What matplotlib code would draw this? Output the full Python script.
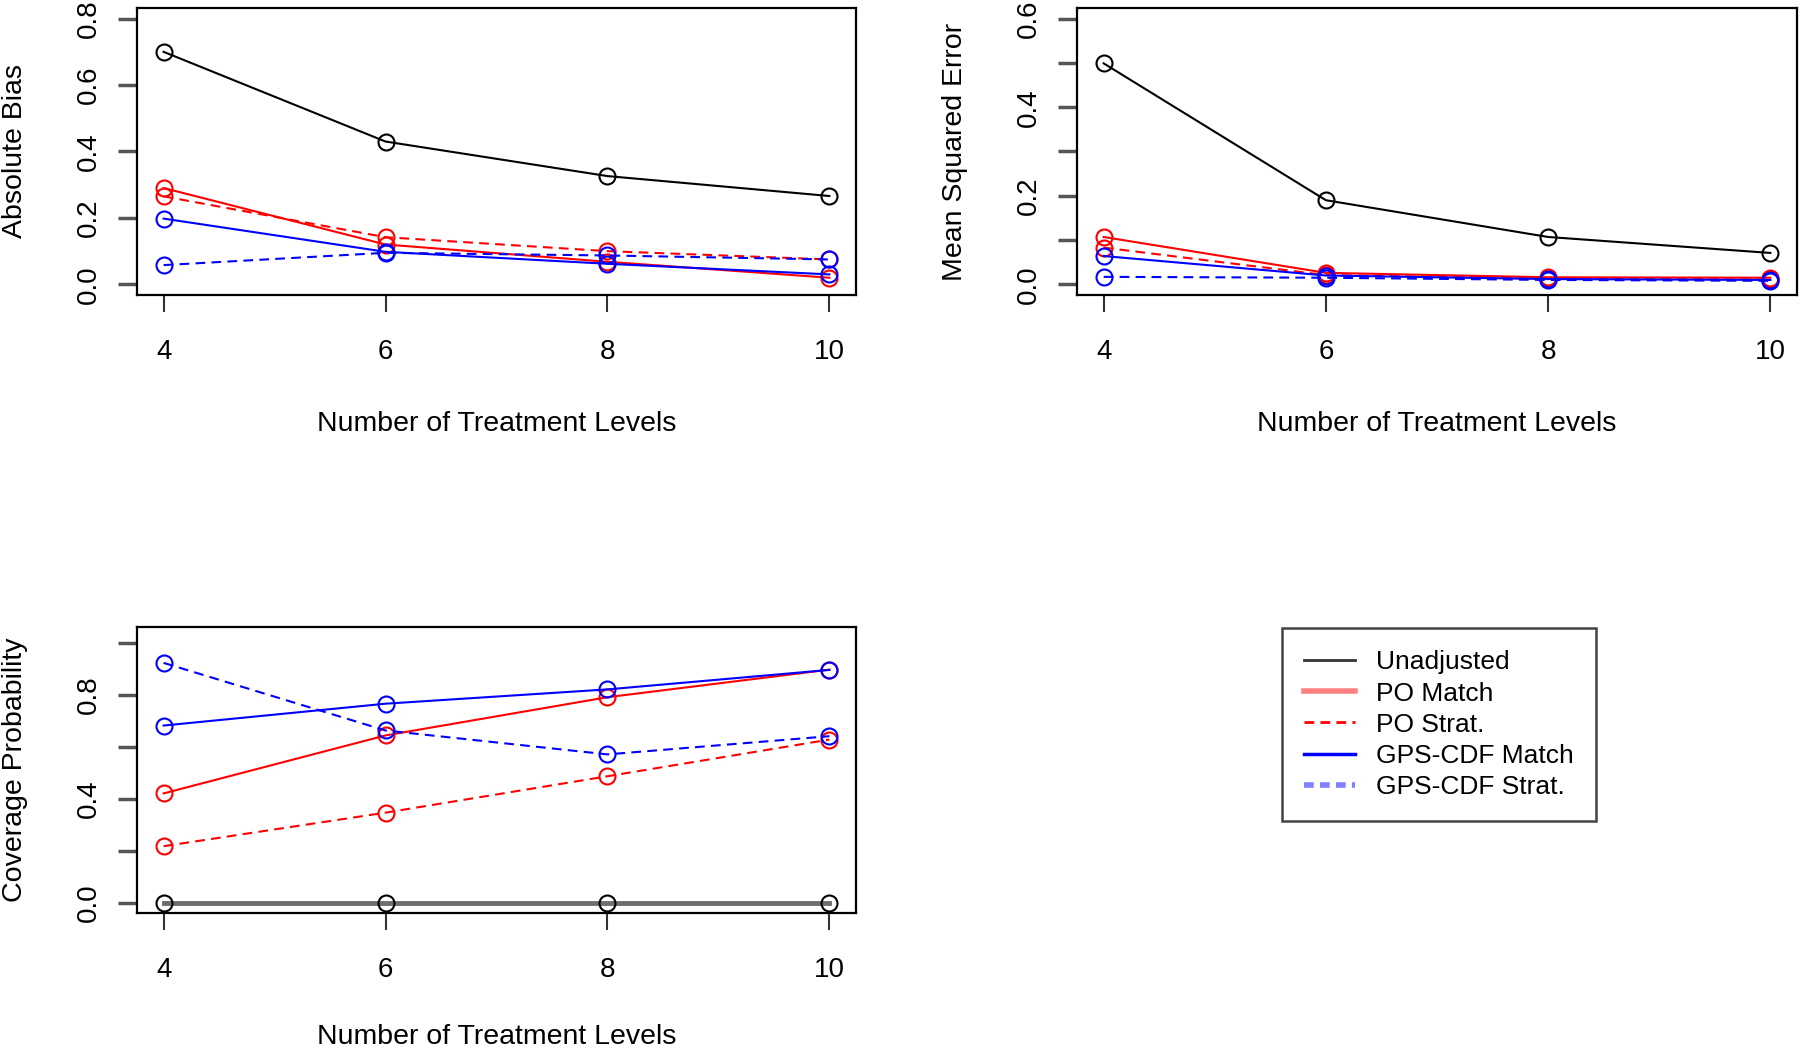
import matplotlib
matplotlib.use('Agg')
import matplotlib.pyplot as plt
from matplotlib.lines import Line2D

plt.rcParams['font.family'] = ['Liberation Sans', 'DejaVu Sans']
plt.rcParams['lines.scale_dashes'] = False

levels = [4, 6, 8, 10]
series = ['Unadjusted', 'PO Match', 'PO Strat.', 'GPS-CDF Match', 'GPS-CDF Strat.']

bias_unadj = [0.70, 0.43, 0.326, 0.266]
bias_po_match = [0.29, 0.12, 0.068, 0.02]
bias_po_strat = [0.265, 0.142, 0.10, 0.075]
bias_gps_match = [0.198, 0.098, 0.062, 0.03]
bias_gps_strat = [0.058, 0.095, 0.087, 0.075]

mse_unadj = [0.499, 0.19, 0.107, 0.071]
mse_po_match = [0.107, 0.026, 0.016, 0.015]
mse_po_strat = [0.083, 0.021, 0.013, 0.011]
mse_gps_match = [0.064, 0.02, 0.012, 0.01]
mse_gps_strat = [0.017, 0.015, 0.01, 0.008]

cov_unadj = [0.0, 0.0, 0.0, 0.0]
cov_po_match = [0.42, 0.643, 0.79, 0.896]
cov_po_strat = [0.217, 0.346, 0.486, 0.627]
cov_gps_match = [0.681, 0.765, 0.82, 0.895]
cov_gps_strat = [0.922, 0.662, 0.57, 0.64]

styles = [dict(color='black', ls='-'),
          dict(color='red', ls='-'),
          dict(color='red', ls=(0, (7, 4.5))),
          dict(color='blue', ls='-'),
          dict(color='blue', ls=(0, (7, 4.5)))]

W, H = 1800, 1051
fig = plt.figure(figsize=(18, 10.51), dpi=100)


def box(l, t, r, b):
    return [l / W, 1 - b / H, (r - l) / W, (b - t) / H]


def panel(rect, data, ylim, yticks, ylabels, ylab, gray_first=False, xpad=33):
    ax = fig.add_axes(box(*rect))
    for i, (vals, st) in enumerate(zip(data, styles)):
        color = st['color']
        lw = 1.5
        if i == 0 and gray_first:
            color, lw = '#6e6e6e', 3.5
        ax.plot(levels, vals, color=color, ls=st['ls'], lw=lw)
        ax.plot(levels, vals, 'o', mfc='none', mec=st['color'], ms=11.5, mew=1.5)
    ax.set_xlim(3.76, 10.24)
    ax.set_ylim(*ylim)
    ax.set_xticks(levels)
    ax.set_yticks(yticks)
    ax.set_yticklabels(ylabels)
    ax.tick_params(axis='x', length=12, width=1.5, color='#333333', pad=20, labelsize=20)
    ax.tick_params(axis='y', length=13.5, width=2.5, color='#555555', pad=12, labelsize=20,
                   labelrotation=90)
    for lbl in ax.get_yticklabels():
        lbl.set_va('center')
    for sp in ax.spines.values():
        sp.set_linewidth(1.6)
    ax.set_xlabel('Number of Treatment Levels', fontsize=20.5, labelpad=xpad)
    ax.set_ylabel(ylab, fontsize=20.5, labelpad=34)
    return ax


ax1 = panel((137, 8, 856, 295),
            [bias_unadj, bias_po_match, bias_po_strat, bias_gps_match, bias_gps_strat],
            (-0.032, 0.832), [0, 0.2, 0.4, 0.6, 0.8],
            ['0.0', '0.2', '0.4', '0.6', '0.8'], 'Absolute Bias')

ax2 = panel((1077, 8, 1797, 295),
            [mse_unadj, mse_po_match, mse_po_strat, mse_gps_match, mse_gps_strat],
            (-0.024, 0.624), [0, 0.1, 0.2, 0.3, 0.4, 0.5, 0.6],
            ['0.0', '', '0.2', '', '0.4', '', '0.6'], 'Mean Squared Error')

ax3 = panel((137, 627, 856, 913),
            [cov_unadj, cov_po_match, cov_po_strat, cov_gps_match, cov_gps_strat],
            (-0.04, 1.06), [0, 0.2, 0.4, 0.6, 0.8, 1.0],
            ['0.0', '', '0.4', '', '0.8', ''], 'Coverage Probability', gray_first=True,
            xpad=29)

handles = [Line2D([], [], color='#333333', lw=2),
           Line2D([], [], color='#ff8080', lw=4),
           Line2D([], [], color='red', lw=2, ls=(0, (7, 4.5))),
           Line2D([], [], color='blue', lw=2.5),
           Line2D([], [], color='#8080ff', lw=4, ls=(0, (7, 4.5)))]
leg = fig.legend(handles, series, loc='upper left',
                 bbox_to_anchor=(1282 / W, 1 - 628 / H), borderaxespad=0,
                 fontsize=19, fancybox=False, edgecolor='#444444',
                 handlelength=1.9, handletextpad=0.8, labelspacing=0.27,
                 borderpad=0.85, framealpha=1)
leg.get_frame().set_linewidth(1.8)

fig.savefig('out.png', dpi=100)
